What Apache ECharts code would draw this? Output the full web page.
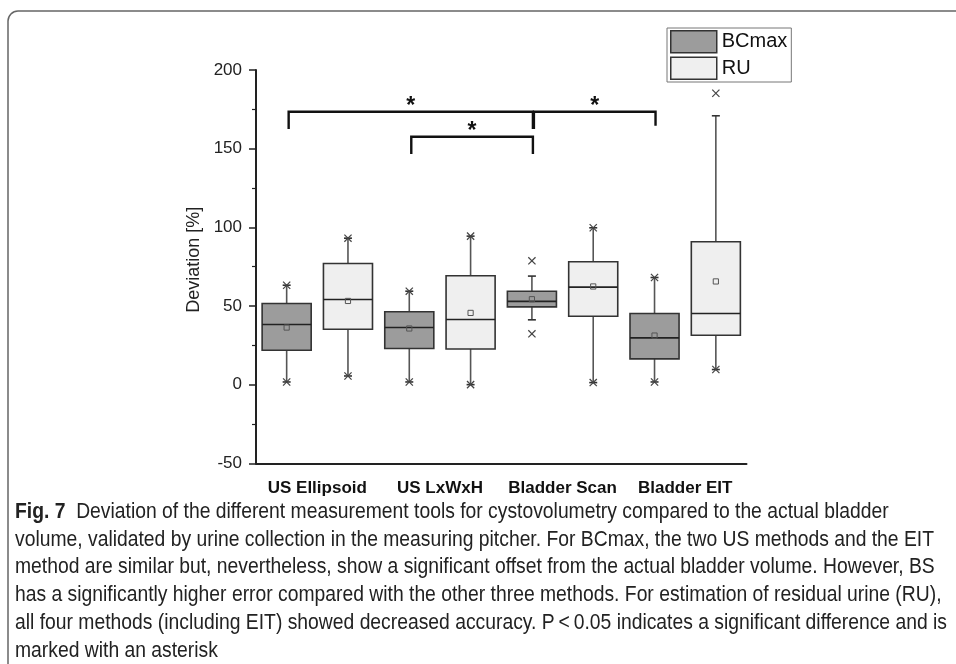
<!DOCTYPE html>
<html>
<head>
<meta charset="utf-8">
<script src="https://cdn.jsdelivr.net/npm/echarts@6/dist/echarts.min.js"></script>
<style>html,body{margin:0;padding:0;background:#fff;}#chart{width:956px;height:664px;}</style>
</head>
<body>
<div id="chart"></div>
<script>
// ---- data ----
const categories = ['US Ellipsoid', 'US LxWxH', 'Bladder Scan', 'Bladder EIT'];
const slots = ['US Ellipsoid BCmax', 'US Ellipsoid RU', 'US LxWxH BCmax', 'US LxWxH RU', 'Bladder Scan BCmax', 'Bladder Scan RU', 'Bladder EIT BCmax', 'Bladder EIT RU'];
const yTicks = [-50, 0, 50, 100, 150, 200];

const bcmaxWhiskerLow  = [1.7, 1.7, 41.2, 1.7];
const bcmaxQ1          = [21.9, 23.0, 49.4, 16.4];
const bcmaxMedian      = [38.2, 36.3, 52.9, 29.7];
const bcmaxQ3          = [51.6, 46.3, 59.4, 45.2];
const bcmaxWhiskerHigh = [63.2, 59.4, 69.0, 68.1];
const bcmaxMean        = [36.3, 35.7, 54.3, 31.2];
const bcmaxMin         = [1.7, 1.7, 32.3, 1.7];
const bcmaxMax         = [63.2, 59.4, 78.7, 68.1];

const ruWhiskerLow  = [5.5, 0.0, 1.3, 9.6];
const ruQ1          = [35.2, 22.7, 43.5, 31.4];
const ruMedian      = [54.1, 41.4, 62.0, 45.2];
const ruQ3          = [77.0, 69.2, 78.1, 90.8];
const ruWhiskerHigh = [93.1, 94.4, 99.7, 170.9];
const ruMean        = [53.2, 45.6, 62.4, 65.6];
const ruMin         = [5.5, 0.0, 1.3, 9.6];
const ruMax         = [93.1, 94.4, 99.7, 185.2];

// significance brackets (slot indices and values on the y scale)
const bracketFrom     = [0, 4, 2];
const bracketTo       = [4, 6, 4];
const bracketTop      = [173.5, 173.5, 157.6];
const bracketLeftEnd  = [162.5, 162.5, 146.6];
const bracketRightEnd = [162.5, 164.6, 146.6];
const bracketLabel    = ['*', '*', '*'];

const captionBold = 'Fig. 7';
const captionLines = [
  '  Deviation of the different measurement tools for cystovolumetry compared to the actual bladder',
  'volume, validated by urine collection in the measuring pitcher. For BCmax, the two US methods and the EIT',
  'method are similar but, nevertheless, show a significant offset from the actual bladder volume. However, BS',
  'has a significantly higher error compared with the other three methods. For estimation of residual urine (RU),',
  'all four methods (including EIT) showed decreased accuracy. P\u2009<\u20090.05 indicates a significant difference and is',
  'marked with an asterisk'
];

// ---- build ----
function boxRows(offset, lo, q1, med, q3, hi, mean, mn, mx) {
  return categories.map((c, i) => [2 * i + offset, lo[i], q1[i], med[i], q3[i], hi[i], mean[i], mn[i], mx[i]]);
}
const bcmaxData = boxRows(0, bcmaxWhiskerLow, bcmaxQ1, bcmaxMedian, bcmaxQ3, bcmaxWhiskerHigh, bcmaxMean, bcmaxMin, bcmaxMax);
const ruData = boxRows(1, ruWhiskerLow, ruQ1, ruMedian, ruQ3, ruWhiskerHigh, ruMean, ruMin, ruMax);
const bracketData = bracketFrom.map((f, i) => [f, bracketTo[i], bracketTop[i], bracketLeftEnd[i], bracketRightEnd[i]]);

const FONT = "'Liberation Sans', Arial, sans-serif";
const BCMAX_FILL = '#9c9c9c';
const RU_FILL = '#efefef';

function makeBoxRenderer(fill) {
  return function (params, api) {
    const slot = api.value(0);
    const y = v => api.coord([slot, v])[1];
    const cx = api.coord([slot, 0])[0];
    const band = api.size([1, 0])[0];
    const half = band * 0.4;
    const yLo = y(api.value(1)), yQ1 = y(api.value(2)), yMed = y(api.value(3)),
          yQ3 = y(api.value(4)), yHi = y(api.value(5)), yMean = y(api.value(6)),
          yMin = y(api.value(7)), yMax = y(api.value(8));
    const cap = 4, cr = 3.6;
    const wStyle = { stroke: '#555', lineWidth: 1.6 };
    const xStyle = { stroke: '#444', lineWidth: 1.2 };
    function cross(yy) {
      return [
        { type: 'line', shape: { x1: cx - cr, y1: yy - cr, x2: cx + cr, y2: yy + cr }, style: xStyle },
        { type: 'line', shape: { x1: cx - cr, y1: yy + cr, x2: cx + cr, y2: yy - cr }, style: xStyle }
      ];
    }
    const children = [
      { type: 'line', shape: { x1: cx, y1: yQ1, x2: cx, y2: yLo }, style: wStyle },
      { type: 'line', shape: { x1: cx, y1: yQ3, x2: cx, y2: yHi }, style: wStyle },
      { type: 'line', shape: { x1: cx - cap, y1: yLo, x2: cx + cap, y2: yLo }, style: { stroke: '#333', lineWidth: 1.6 } },
      { type: 'line', shape: { x1: cx - cap, y1: yHi, x2: cx + cap, y2: yHi }, style: { stroke: '#333', lineWidth: 1.6 } },
      { type: 'rect', shape: { x: cx - half, y: yQ3, width: 2 * half, height: yQ1 - yQ3 }, style: { fill: fill, stroke: '#333', lineWidth: 1.6 } },
      { type: 'line', shape: { x1: cx - half, y1: yMed, x2: cx + half, y2: yMed }, style: { stroke: '#222', lineWidth: 1.6 } },
      { type: 'rect', shape: { x: cx - 2.6, y: yMean - 2.6, width: 5.2, height: 5.2 }, style: { fill: 'none', stroke: '#555', lineWidth: 1 } }
    ].concat(cross(yMin), cross(yMax));
    return { type: 'group', children: children };
  };
}

function renderBracket(params, api) {
  const a = api.value(0), b = api.value(1);
  const top = api.coord([a, api.value(2)]);
  const x1 = top[0] + 2;
  const x2 = api.coord([b, 0])[0] + 1;
  const yT = top[1];
  const yL = api.coord([a, api.value(3)])[1];
  const yR = api.coord([a, api.value(4)])[1];
  const st = { stroke: '#111', lineWidth: 2.4, fill: 'none', lineJoin: 'miter' };
  return {
    type: 'group',
    children: [
      { type: 'polyline', shape: { points: [[x1, yL], [x1, yT], [x2, yT], [x2, yR]] }, style: st },
      { type: 'text', style: { text: bracketLabel[params.dataIndex], x: (x1 + x2) / 2, y: yT + 6.5, align: 'center', verticalAlign: 'bottom', font: "bold 23px 'Liberation Sans', Arial, sans-serif", fill: '#111' } }
    ]
  };
}

// caption: condensed by one uniform horizontal scale so the widest line fits the text block
const CAP_SIZE = 22;
const capFont = CAP_SIZE + "px 'Liberation Sans', Arial, sans-serif";
const capBoldFont = 'bold ' + capFont;
const measureCtx = document.createElement('canvas').getContext('2d');
measureCtx.font = capFont;
const widest = Math.max.apply(null, captionLines.slice(1).map(t => measureCtx.measureText(t).width));
const capScale = 932 / widest;

const chart = echarts.init(document.getElementById('chart'), null, { renderer: 'canvas' });
const graphics = [
  { type: 'rect', z: -1, shape: { x: 8, y: 11, width: 1000, height: 720, r: 10 }, style: { fill: 'none', stroke: '#666', lineWidth: 1.5 } }
];
captionLines.forEach((t, i) => {
  graphics.push({
    type: 'text', x: 15, y: 512 + i * 27.7, scaleX: capScale,
    style: {
      text: (i === 0 ? '{b|' + captionBold + '}' : '') + t,
      x: 0, y: 0, verticalAlign: 'middle',
      font: capFont,
      fill: '#222',
      rich: { b: { font: capBoldFont, fill: '#222' } }
    }
  });
});

chart.setOption({
  animation: false,
  backgroundColor: '#fff',
  grid: { left: 256, right: 209.5, top: 70, bottom: 200.7, containLabel: false },
  legend: {
    orient: 'vertical', left: 667, top: 28,
    padding: [2, 4, 2, 3], itemGap: 3, itemWidth: 46, itemHeight: 22,
    borderColor: '#777', borderWidth: 1,
    icon: 'rect',
    textStyle: { fontSize: 20, fontFamily: FONT, color: '#111' },
    data: [
      { name: 'BCmax', itemStyle: { color: BCMAX_FILL, borderColor: '#333', borderWidth: 1.5 } },
      { name: 'RU', itemStyle: { color: RU_FILL, borderColor: '#333', borderWidth: 1.5 } }
    ]
  },
  xAxis: [
    {
      type: 'category', data: slots, position: 'bottom', boundaryGap: true,
      axisLine: { onZero: false, lineStyle: { color: '#222', width: 2 } },
      axisTick: { alignWithLabel: true, length: 8, lineStyle: { color: '#222', width: 1.5 } },
      axisLabel: { show: false },
      splitLine: { show: false }
    },
    {
      type: 'category', data: categories, position: 'bottom', boundaryGap: true,
      axisLine: { show: false, onZero: false }, axisTick: { show: false },
      axisLabel: { margin: 17, fontSize: 17, fontWeight: 'bold', fontFamily: FONT, color: '#111', interval: 0 },
      splitLine: { show: false }
    }
  ],
  yAxis: {
    type: 'value', min: yTicks[0], max: yTicks[yTicks.length - 1], interval: 50,
    name: 'Deviation [%]', nameLocation: 'middle', nameGap: 51,
    nameTextStyle: { fontSize: 18, fontFamily: FONT, color: '#222', padding: [0, 0, 0, 14] },
    axisLine: { show: true, lineStyle: { color: '#222', width: 2 } },
    axisTick: { show: true, length: 7, lineStyle: { color: '#222', width: 1.5 } },
    minorTick: { show: true, splitNumber: 2, length: 4, lineStyle: { color: '#222', width: 1.2 } },
    axisLabel: { margin: 14, fontSize: 17, fontFamily: FONT, color: '#222' },
    splitLine: { show: false }
  },
  series: [
    { name: 'BCmax', type: 'custom', xAxisIndex: 0, itemStyle: { color: BCMAX_FILL }, renderItem: makeBoxRenderer(BCMAX_FILL), data: bcmaxData, encode: { x: 0, y: [1, 2, 3, 4, 5, 6, 7, 8] } },
    { name: 'RU', type: 'custom', xAxisIndex: 0, itemStyle: { color: RU_FILL }, renderItem: makeBoxRenderer(RU_FILL), data: ruData, encode: { x: 0, y: [1, 2, 3, 4, 5, 6, 7, 8] } },
    { name: 'brackets', type: 'custom', xAxisIndex: 0, renderItem: renderBracket, data: bracketData, encode: { x: [0, 1], y: [2, 3, 4] }, silent: true }
  ],
  graphic: graphics
});
</script>
</body>
</html>
